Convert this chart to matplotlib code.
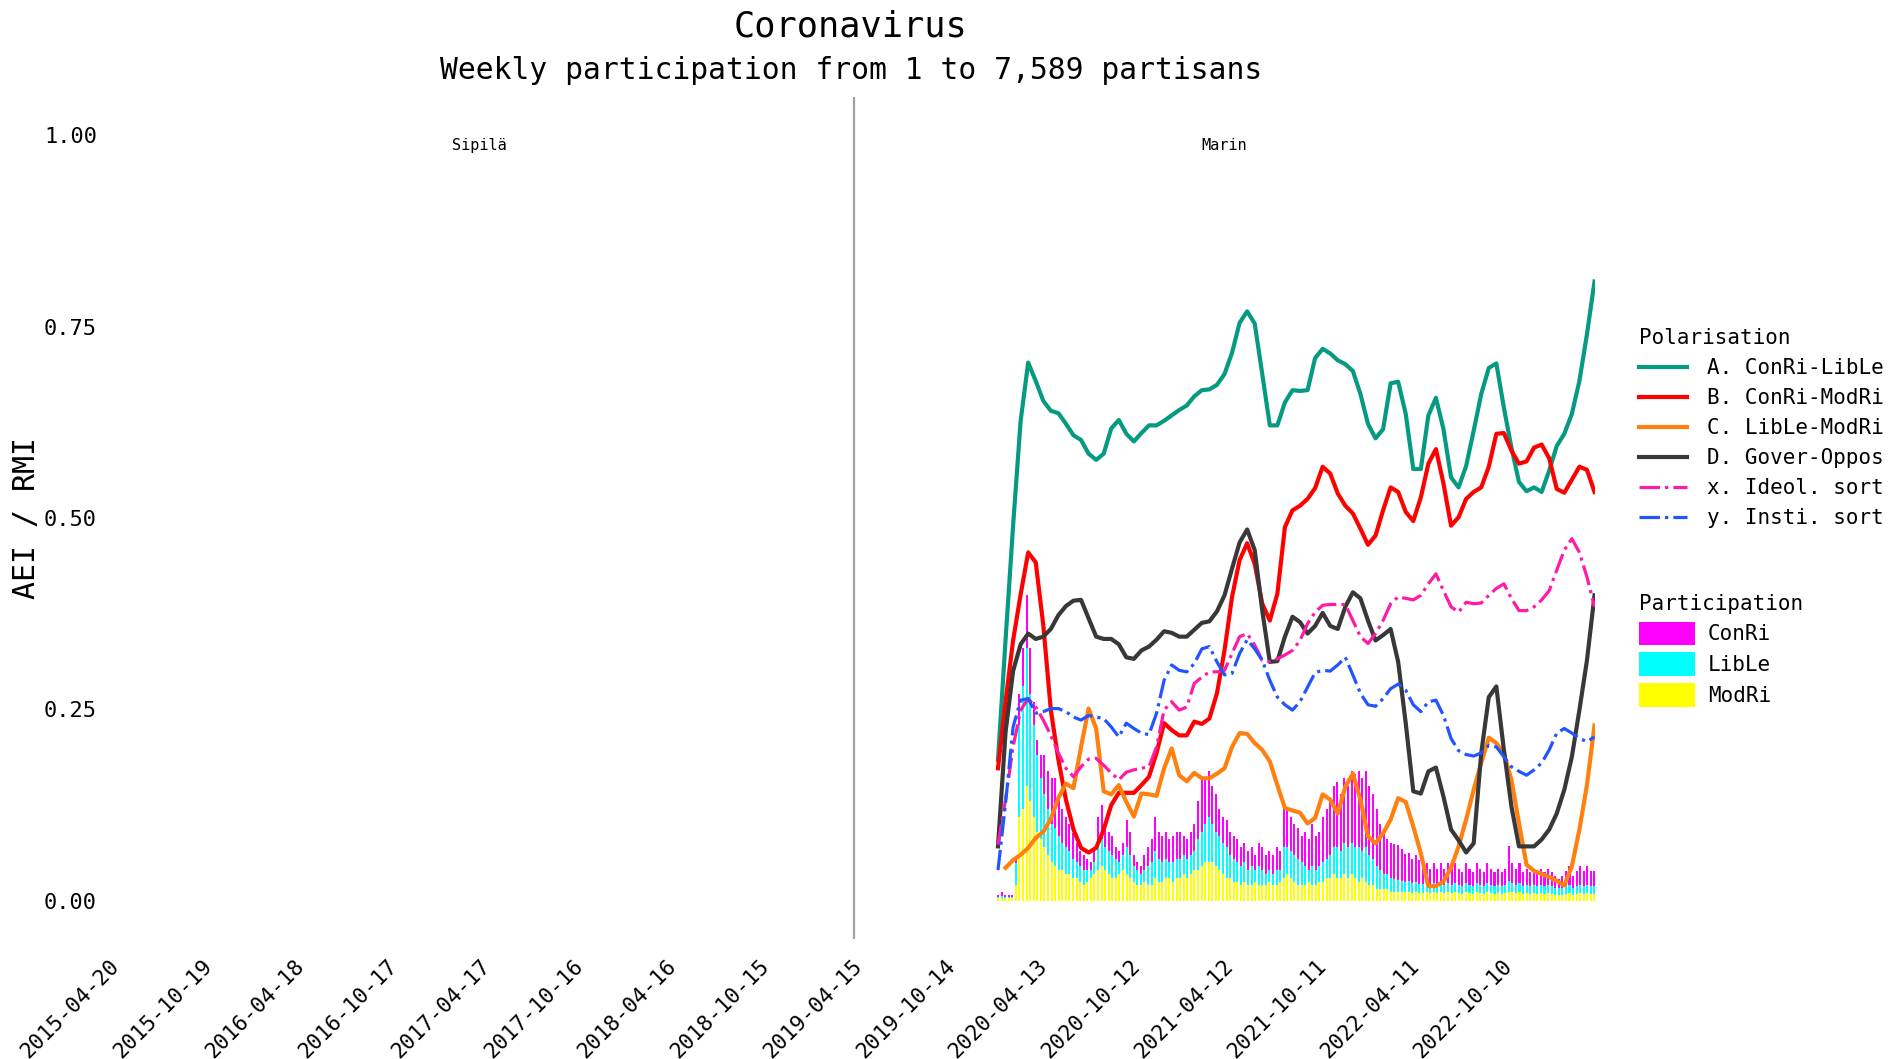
import numpy as np
import pandas as pd
import matplotlib
matplotlib.use('Agg')
import matplotlib.pyplot as plt
from matplotlib.lines import Line2D
from matplotlib.patches import Patch

plt.rcParams['font.family'] = ['DejaVu Sans Mono', 'DejaVu Sans']

# ---------------- data ----------------
title = 'Coronavirus'
subtitle = 'Weekly participation from 1 to 7,589 partisans'
week_start = '2019-12-30'
n_weeks = 168
xlim_dates = ['2015-03-18', '2023-03-13']
gov_change = '2019-03-22'
gov_names = ['Sipilä', 'Marin']
tick_labels = ['2015-04-20', '2015-10-19', '2016-04-18', '2016-10-17', '2017-04-17',
               '2017-10-16', '2018-04-16', '2018-10-15', '2019-04-15', '2019-10-14',
               '2020-04-13', '2020-10-12', '2021-04-12', '2021-10-11', '2022-04-11',
               '2022-10-10']
y_ticks = [0.0, 0.25, 0.5, 0.75, 1.0]

# participation (weekly stacked bars)
modri = [0.003, 0.004, 0.003, 0.003, 0.004, 0.020,
         0.11, 0.12, 0.15, 0.13, 0.11, 0.09, 0.08, 0.07, 0.06, 0.05,
         0.045, 0.04, 0.04, 0.035, 0.035, 0.03, 0.03, 0.025, 0.02, 0.025,
         0.03, 0.035, 0.04, 0.045, 0.04, 0.035, 0.03, 0.03, 0.035, 0.04,
         0.035, 0.03, 0.025, 0.02, 0.02, 0.025, 0.02, 0.02, 0.03, 0.025,
         0.025, 0.03, 0.03, 0.025, 0.03, 0.03, 0.035, 0.03, 0.035, 0.04,
         0.04, 0.045, 0.05, 0.05, 0.05, 0.045, 0.04, 0.035, 0.03, 0.03,
         0.025, 0.025, 0.02, 0.025, 0.02, 0.02, 0.025, 0.02, 0.02, 0.02,
         0.025, 0.02, 0.02, 0.025, 0.03, 0.035, 0.03, 0.025, 0.02, 0.02,
         0.02, 0.025, 0.02, 0.02, 0.025, 0.025, 0.03, 0.03, 0.035, 0.03,
         0.03, 0.035, 0.03, 0.035, 0.03, 0.025, 0.03, 0.025, 0.02, 0.02,
         0.015, 0.015, 0.015, 0.015, 0.012,
         0.012, 0.012, 0.011, 0.011, 0.012, 0.010, 0.011, 0.010, 0.010, 0.011,
         0.010, 0.011, 0.010, 0.011, 0.010, 0.011, 0.010, 0.011, 0.010, 0.009,
         0.011, 0.010, 0.009, 0.011, 0.010, 0.009, 0.011, 0.010, 0.009, 0.010,
         0.009, 0.010, 0.012, 0.011, 0.010, 0.011, 0.009, 0.010, 0.009, 0.010,
         0.009, 0.010, 0.009, 0.010, 0.009, 0.008, 0.008, 0.008, 0.009, 0.010,
         0.008, 0.009, 0.010, 0.009, 0.010, 0.009, 0.009]
lible = [0.002, 0.002, 0.002, 0.002, 0.001, 0.029,
         0.12, 0.16, 0.18, 0.14, 0.12, 0.10, 0.08, 0.07, 0.06, 0.05,
         0.05, 0.045, 0.035, 0.035, 0.03, 0.025, 0.02, 0.02, 0.02, 0.015,
         0.01, 0.015, 0.03, 0.035, 0.03, 0.03, 0.03, 0.025, 0.015, 0.02,
         0.035, 0.03, 0.02, 0.02, 0.015, 0.015, 0.025, 0.03, 0.035, 0.03,
         0.025, 0.025, 0.02, 0.025, 0.025, 0.025, 0.025, 0.025, 0.025, 0.025,
         0.04, 0.045, 0.05, 0.06, 0.05, 0.045, 0.045, 0.04, 0.04, 0.03,
         0.03, 0.025, 0.025, 0.025, 0.02, 0.025, 0.015, 0.025, 0.02, 0.015,
         0.015, 0.015, 0.02, 0.015, 0.04, 0.035, 0.035, 0.035, 0.035, 0.03,
         0.025, 0.015, 0.025, 0.02, 0.02, 0.025, 0.025, 0.03, 0.035, 0.04,
         0.035, 0.04, 0.04, 0.04, 0.04, 0.045, 0.035, 0.045, 0.04, 0.035,
         0.03, 0.025, 0.02, 0.02, 0.018,
         0.016, 0.015, 0.015, 0.014, 0.014, 0.013, 0.013, 0.012, 0.012, 0.012,
         0.011, 0.012, 0.011, 0.012, 0.011, 0.012, 0.011, 0.012, 0.011, 0.010,
         0.012, 0.011, 0.010, 0.012, 0.011, 0.010, 0.012, 0.011, 0.010, 0.011,
         0.010, 0.011, 0.014, 0.012, 0.011, 0.012, 0.010, 0.011, 0.010, 0.011,
         0.010, 0.011, 0.010, 0.011, 0.010, 0.009, 0.008, 0.009, 0.010, 0.011,
         0.009, 0.010, 0.011, 0.010, 0.011, 0.010, 0.010]
conri = [0.003, 0.006, 0.003, 0.003, 0.003, 0.009,
         0.04, 0.05, 0.07, 0.06, 0.03, 0.02, 0.03, 0.05, 0.05, 0.06,
         0.065, 0.055, 0.045, 0.04, 0.035, 0.033, 0.025, 0.02, 0.02, 0.015,
         0.01, 0.015, 0.04, 0.045, 0.025, 0.025, 0.025, 0.015, 0.015, 0.015,
         0.035, 0.03, 0.015, 0.01, 0.01, 0.02, 0.025, 0.03, 0.045, 0.035,
         0.035, 0.035, 0.03, 0.035, 0.035, 0.035, 0.025, 0.025, 0.03, 0.035,
         0.05, 0.07, 0.06, 0.06, 0.05, 0.05, 0.035, 0.035, 0.035, 0.03,
         0.03, 0.03, 0.025, 0.025, 0.025, 0.025, 0.02, 0.03, 0.03, 0.025,
         0.025, 0.025, 0.03, 0.025, 0.06, 0.05, 0.045, 0.04, 0.04, 0.035,
         0.045, 0.04, 0.055, 0.045, 0.045, 0.06, 0.065, 0.07, 0.08, 0.085,
         0.075, 0.085, 0.08, 0.095, 0.095, 0.10, 0.095, 0.10, 0.09, 0.085,
         0.075, 0.06, 0.055, 0.045, 0.045,
         0.046, 0.046, 0.041, 0.036, 0.036, 0.031, 0.036, 0.031, 0.026, 0.026,
         0.021, 0.026, 0.021, 0.026, 0.021, 0.026, 0.021, 0.026, 0.021, 0.018,
         0.026, 0.021, 0.018, 0.026, 0.021, 0.018, 0.026, 0.021, 0.018, 0.021,
         0.018, 0.021, 0.046, 0.026, 0.021, 0.026, 0.018, 0.021, 0.018, 0.021,
         0.018, 0.021, 0.018, 0.021, 0.018, 0.015, 0.012, 0.015, 0.020, 0.025,
         0.015, 0.020, 0.025, 0.020, 0.025, 0.020, 0.020]

# polarisation (semi-monthly points)
n_line = 80
conri_lible = [0.184, 0.34, 0.49, 0.627, 0.703, 0.679, 0.653, 0.640, 0.637, 0.623,
               0.608, 0.602, 0.584, 0.576, 0.584, 0.617, 0.628, 0.610, 0.600, 0.611,
               0.621, 0.621, 0.627, 0.634, 0.641, 0.647, 0.659, 0.667, 0.668, 0.674,
               0.688, 0.716, 0.755, 0.770, 0.754, 0.688, 0.621, 0.621, 0.651, 0.667,
               0.666, 0.667, 0.709, 0.721, 0.715, 0.706, 0.701, 0.692, 0.662, 0.623,
               0.604, 0.616, 0.676, 0.678, 0.636, 0.564, 0.564, 0.634, 0.657, 0.616,
               0.553, 0.540, 0.568, 0.614, 0.662, 0.696, 0.702, 0.644, 0.592, 0.547,
               0.535, 0.540, 0.534, 0.562, 0.594, 0.610, 0.636, 0.679, 0.740, 0.809]
conri_modri = [0.173, 0.26, 0.34, 0.40, 0.455, 0.442, 0.36, 0.249, 0.184, 0.132,
               0.093, 0.069, 0.063, 0.069, 0.093, 0.125, 0.141, 0.141, 0.141, 0.151,
               0.162, 0.193, 0.232, 0.223, 0.216, 0.216, 0.234, 0.231, 0.238, 0.271,
               0.327, 0.397, 0.445, 0.467, 0.440, 0.388, 0.366, 0.401, 0.488, 0.510,
               0.516, 0.525, 0.539, 0.567, 0.558, 0.532, 0.516, 0.506, 0.486, 0.465,
               0.477, 0.510, 0.540, 0.534, 0.508, 0.496, 0.527, 0.571, 0.590, 0.545,
               0.490, 0.501, 0.525, 0.534, 0.540, 0.567, 0.610, 0.611, 0.588, 0.571,
               0.574, 0.592, 0.596, 0.578, 0.538, 0.533, 0.550, 0.567, 0.563, 0.534]
lible_modri = [np.nan, 0.043, 0.053, 0.060, 0.069, 0.082, 0.090, 0.107, 0.134, 0.153,
               0.147, 0.201, 0.251, 0.225, 0.143, 0.139, 0.151, 0.129, 0.110, 0.140,
               0.139, 0.137, 0.173, 0.199, 0.164, 0.156, 0.167, 0.160, 0.160, 0.166,
               0.173, 0.201, 0.219, 0.218, 0.206, 0.197, 0.182, 0.151, 0.121, 0.118,
               0.115, 0.101, 0.108, 0.139, 0.132, 0.114, 0.149, 0.166, 0.132, 0.084,
               0.075, 0.088, 0.106, 0.134, 0.129, 0.097, 0.062, 0.019, 0.019, 0.025,
               0.043, 0.071, 0.106, 0.145, 0.180, 0.213, 0.206, 0.192, 0.158, 0.101,
               0.047, 0.039, 0.035, 0.031, 0.026, 0.020, 0.045, 0.093, 0.151, 0.229]
gover_oppos = [0.071, 0.22, 0.30, 0.335, 0.349, 0.342, 0.345, 0.355, 0.373, 0.385,
               0.392, 0.393, 0.369, 0.345, 0.342, 0.342, 0.335, 0.318, 0.316, 0.327,
               0.332, 0.341, 0.352, 0.350, 0.345, 0.345, 0.354, 0.363, 0.365, 0.378,
               0.399, 0.434, 0.468, 0.485, 0.458, 0.379, 0.312, 0.313, 0.345, 0.371,
               0.364, 0.349, 0.359, 0.376, 0.359, 0.355, 0.384, 0.403, 0.395, 0.366,
               0.340, 0.347, 0.355, 0.312, 0.232, 0.143, 0.140, 0.169, 0.174, 0.136,
               0.093, 0.079, 0.063, 0.075, 0.193, 0.266, 0.280, 0.197, 0.123, 0.071,
               0.071, 0.071, 0.080, 0.093, 0.114, 0.145, 0.188, 0.249, 0.314, 0.399]
ideol_sort = [0.073, 0.132, 0.201, 0.249, 0.264, 0.253, 0.236, 0.216, 0.193, 0.173,
              0.162, 0.175, 0.185, 0.186, 0.177, 0.167, 0.158, 0.168, 0.171, 0.173,
              0.175, 0.201, 0.249, 0.260, 0.249, 0.253, 0.284, 0.292, 0.299, 0.299,
              0.301, 0.323, 0.345, 0.349, 0.334, 0.314, 0.312, 0.316, 0.321, 0.327,
              0.340, 0.362, 0.377, 0.386, 0.387, 0.387, 0.387, 0.366, 0.345, 0.336,
              0.349, 0.366, 0.388, 0.397, 0.395, 0.393, 0.399, 0.414, 0.427, 0.405,
              0.384, 0.377, 0.390, 0.388, 0.389, 0.399, 0.408, 0.414, 0.395, 0.379,
              0.379, 0.384, 0.393, 0.405, 0.432, 0.458, 0.473, 0.455, 0.423, 0.384]
insti_sort = [0.040, 0.127, 0.227, 0.262, 0.264, 0.245, 0.247, 0.251, 0.251, 0.247,
              0.240, 0.236, 0.242, 0.240, 0.238, 0.227, 0.214, 0.232, 0.225, 0.219,
              0.217, 0.245, 0.288, 0.308, 0.301, 0.299, 0.310, 0.329, 0.332, 0.312,
              0.295, 0.297, 0.323, 0.341, 0.329, 0.314, 0.288, 0.266, 0.256, 0.249,
              0.260, 0.279, 0.298, 0.301, 0.300, 0.308, 0.318, 0.295, 0.271, 0.256,
              0.254, 0.264, 0.277, 0.283, 0.275, 0.256, 0.247, 0.260, 0.262, 0.242,
              0.212, 0.196, 0.191, 0.189, 0.193, 0.203, 0.201, 0.188, 0.175, 0.169,
              0.164, 0.171, 0.180, 0.197, 0.219, 0.225, 0.219, 0.212, 0.208, 0.214]

line_names = ['A. ConRi-LibLe', 'B. ConRi-ModRi', 'C. LibLe-ModRi',
              'D. Gover-Oppos', 'x. Ideol. sort', 'y. Insti. sort']
line_values = [conri_lible, conri_modri, lible_modri, gover_oppos, ideol_sort, insti_sort]
line_colors = ['#079a82', '#ff0000', '#ff800e', '#383838', '#ff1aa8', '#2255ff']
line_styles = ['-', '-', '-', '-', '-.', '-.']
line_widths = [3.0, 3.0, 3.0, 3.0, 2.3, 2.3]

party_names = ['ConRi', 'LibLe', 'ModRi']
party_colors = ['#ff00ff', '#00ffff', '#ffff00']

# ---------------- figure ----------------
W, H = 1897, 1059
fig = plt.figure(figsize=(W / 100, H / 100), dpi=100)
ax_l, ax_r, ax_t, ax_b = 106, 1594.5, 97, 939
ax = fig.add_axes([ax_l / W, 1 - ax_b / H, (ax_r - ax_l) / W, (ax_b - ax_t) / H])

weeks = pd.date_range(week_start, periods=n_weeks, freq='7D')
line_dates = pd.date_range(weeks[0], weeks[-1], periods=n_line)

bar_w = 4.0
ax.bar(weeks, modri, width=bar_w, color=party_colors[2], linewidth=0)
ax.bar(weeks, lible, width=bar_w, bottom=np.array(modri), color=party_colors[1], linewidth=0)
ax.bar(weeks, conri, width=bar_w, bottom=np.array(modri) + np.array(lible),
       color=party_colors[0], linewidth=0)

for vals, c, ls, lw in zip(line_values, line_colors, line_styles, line_widths):
    ax.plot(line_dates, vals, color=c, linestyle=ls, linewidth=lw)

x0, x1 = pd.to_datetime(xlim_dates)
gc = pd.to_datetime(gov_change)
ax.axvline(gc, color='#a0a0a0', linewidth=1.6)
ax.set_xlim(x0, x1)
ax.set_ylim(-0.05, 1.05)

ax.text(x0 + (gc - x0) / 2, 0.986, gov_names[0], ha='center', va='center', fontsize=11)
ax.text(gc + (x1 - gc) / 2, 0.986, gov_names[1], ha='center', va='center', fontsize=11)

ax.set_xticks(pd.to_datetime(tick_labels))
ax.set_xticklabels(tick_labels, rotation=45, ha='right', fontsize=15.5)
ax.set_yticks(y_ticks)
ax.set_yticklabels([f'{v:.2f}' for v in y_ticks], fontsize=15.8)
ax.tick_params(axis='both', length=0)
ax.tick_params(axis='y', pad=6.5)
ax.tick_params(axis='x', pad=12)
for s in ax.spines.values():
    s.set_visible(False)

fig.text(27 / W, 1 - 518 / H, 'AEI / RMI', rotation=90, ha='center', va='center', fontsize=21.5)
fig.text(851 / W, 1 - 26.5 / H, title, ha='center', va='center', fontsize=25.4)
fig.text(851 / W, 1 - 70.5 / H, subtitle, ha='center', va='center', fontsize=21.3)

handles1 = [Line2D([0], [0], color=c, linestyle=ls, linewidth=lw)
            for c, ls, lw in zip(line_colors, line_styles, line_widths)]
leg1 = fig.legend(handles1, line_names, title='Polarisation', loc='upper left',
                  bbox_to_anchor=(1639 / W, 1 - 328 / H), frameon=False, fontsize=15,
                  title_fontsize=15, alignment='left', borderpad=0, borderaxespad=0,
                  handlelength=2.3, handletextpad=0.95, labelspacing=0.48)
handles2 = [Patch(facecolor=c, edgecolor='none') for c in party_colors]
leg2 = fig.legend(handles2, party_names, title='Participation', loc='upper left',
                  bbox_to_anchor=(1639 / W, 1 - 594 / H), frameon=False, fontsize=15,
                  title_fontsize=15, alignment='left', borderpad=0, borderaxespad=0,
                  handlelength=2.7, handleheight=1.35, handletextpad=0.6,
                  labelspacing=0.36)

fig.savefig('out.png', dpi=100)
